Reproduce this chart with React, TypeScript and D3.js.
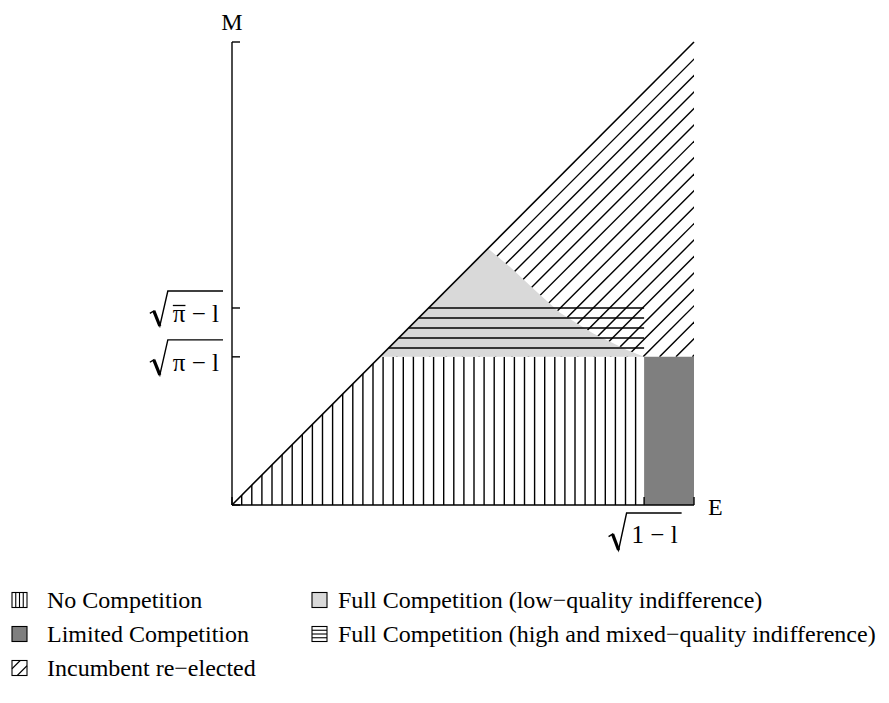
import React, { useEffect, useRef } from "react";
import * as d3 from "d3";

// ---- data ----
const E_DOMAIN: [number, number] = [0, 1];
const M_DOMAIN: [number, number] = [0, 1];
const SQRT_1_L = 0.892; // √(1 − l) on E axis
const SQRT_PI_L = 0.32; // √(π − l) on M axis
const SQRT_PIBAR_L = 0.4255; // √(π̄ − l) on M axis
// boundary of the light-grey region, from apex on the diagonal down to (√(1−l), √(π−l))
const GRAY_BOUNDARY: [number, number][] = [
  [0.554, 0.554],
  [0.602, 0.514],
  [0.66, 0.46],
  [0.71, 0.415],
  [0.781, 0.371],
  [0.855, 0.335],
  [0.892, 0.32],
];
const LEGEND_LABELS = [
  "No Competition",
  "Limited Competition",
  "Incumbent re\u2212elected",
  "Full Competition (low\u2212quality indifference)",
  "Full Competition (high and mixed\u2212quality indifference)",
];
const LEGEND_KINDS = ["vertical", "dark", "diagonal", "light", "horizontal"];
const LEGEND_COL = [0, 0, 0, 1, 1];
const LEGEND_ROW = [0, 1, 2, 0, 1];

const FONT = "'Liberation Serif', 'Times New Roman', serif";
const W = 889;
const H = 703;

export default function App() {
  const ref = useRef<SVGSVGElement | null>(null);

  useEffect(() => {
    const svg = d3.select(ref.current);
    svg.selectAll("*").remove();

    const x = d3.scaleLinear().domain(E_DOMAIN).range([232, 694]);
    const y = d3.scaleLinear().domain(M_DOMAIN).range([505, 42]);
    const a = SQRT_1_L, b = SQRT_PI_L, c = SQRT_PIBAR_L;
    const line = d3.line<[number, number]>().x((d) => x(d[0])).y((d) => y(d[1]));
    const defs = svg.append("defs");

    const clip = (id: string, pts: [number, number][]) => {
      defs.append("clipPath").attr("id", id).append("path").attr("d", line(pts)! + "Z");
      return `url(#${id})`;
    };

    // No competition – vertical hatch
    const noComp: [number, number][] = [[0, 0], [b, b], [a, b], [a, 0]];
    const gV = svg.append("g").attr("clip-path", clip("cNo", noComp));
    const vStep = 10.1;
    const vx = d3.range(x(0) + 9.7, x(a) - 1, vStep);
    gV.selectAll("line").data(vx).join("line")
      .attr("x1", (d) => d).attr("x2", (d) => d)
      .attr("y1", y(0)).attr("y2", y(b))
      .attr("stroke", "#000").attr("stroke-width", 1.4);

    // Limited competition – dark grey
    svg.append("path").attr("d", line([[a, 0], [1, 0], [1, b], [a, b]])! + "Z")
      .attr("fill", "#7f7f7f");

    // Incumbent re-elected – diagonal hatch parallel to the 45° line
    const inc: [number, number][] = [[b, b], [1, 1], [1, b]];
    const gD = svg.append("g").attr("clip-path", clip("cInc", inc));
    const dStep = 16.45;
    const x0 = x(b), yb = y(b);
    const offs = d3.range(dStep, x(1) - x0 + 2, dStep);
    gD.selectAll("line").data(offs).join("line")
      .attr("x1", (d) => x0 + d).attr("y1", yb)
      .attr("x2", (d) => x0 + d + 500).attr("y2", yb - 500)
      .attr("stroke", "#000").attr("stroke-width", 1.4);

    // Full competition (low-quality) – light grey
    const grayPoly: [number, number][] = [[b, b], ...GRAY_BOUNDARY];
    svg.append("path").attr("d", line(grayPoly)! + "Z").attr("fill", "#d9d9d9");

    // Full competition (high & mixed) – horizontal hatch
    const hStep = 10;
    const hy = d3.range(y(c), y(b) - 1, hStep);
    svg.append("g").selectAll("line").data(hy).join("line")
      .attr("x1", (d) => x(y.invert(d))).attr("x2", x(a))
      .attr("y1", (d) => d).attr("y2", (d) => d)
      .attr("stroke", "#000").attr("stroke-width", 1.4);

    // main diagonal M = E
    svg.append("path").attr("d", line([[0, 0], [1, 1]])!)
      .attr("stroke", "#000").attr("stroke-width", 1.6).attr("fill", "none");

    // axes
    const ax = svg.append("g").attr("stroke", "#000").attr("stroke-width", 1.4).attr("fill", "none");
    ax.append("line").attr("x1", x(0)).attr("x2", x(0)).attr("y1", y(0)).attr("y2", y(1));
    ax.append("line").attr("x1", x(0)).attr("x2", x(1)).attr("y1", y(0)).attr("y2", y(0));
    const tickLen = 8;
    [0, b, c, 1].forEach((v) => {
      ax.append("line").attr("x1", x(0)).attr("x2", x(0) + tickLen).attr("y1", y(v)).attr("y2", y(v));
    });
    [0, a, 1].forEach((v) => {
      ax.append("line").attr("x1", x(v)).attr("x2", x(v)).attr("y1", y(0)).attr("y2", y(0) - tickLen);
    });

    // axis titles
    svg.append("text").attr("x", x(0)).attr("y", 30).attr("text-anchor", "middle")
      .attr("font-family", FONT).attr("font-size", 24).text("M");
    svg.append("text").attr("x", 708).attr("y", 515)
      .attr("font-family", FONT).attr("font-size", 24).text("E");

    // radical labels
    const drawSqrt = (
      anchor: "end" | "middle", ax0: number, top: number, bottom: number,
      baseline: number, txt: string, bar: boolean
    ) => {
      const g = svg.append("g");
      const t = g.append("text").attr("y", baseline).attr("font-family", FONT)
        .attr("font-size", 25).text(txt);
      const node = t.node() as SVGTextElement;
      const w = node.getComputedTextLength();
      const R = 18, padL = 5, padR = 4;
      const total = R + padL + w + padR;
      const left = anchor === "end" ? ax0 - total : ax0 - total / 2;
      const vStart = left + R;
      const h = bottom - top;
      t.attr("x", vStart + padL);
      g.append("path")
        .attr("d", `M${left},${top + 0.64 * h}L${left + 4},${top + 0.57 * h}L${left + 10},${bottom}L${vStart},${top}L${vStart + padL + w + padR},${top}`)
        .attr("fill", "none").attr("stroke", "#000").attr("stroke-width", 1.4).attr("stroke-linejoin", "miter");
      g.append("path")
        .attr("d", `M${left + 4},${top + 0.57 * h}L${left + 10},${bottom}`)
        .attr("stroke", "#000").attr("stroke-width", 3.2);
      if (bar) {
        const pw = node.getSubStringLength(0, 1);
        g.append("line").attr("x1", vStart + padL).attr("x2", vStart + padL + pw)
          .attr("y1", baseline - 17).attr("y2", baseline - 17)
          .attr("stroke", "#000").attr("stroke-width", 1.3);
      }
    };
    drawSqrt("end", 223, y(c) - 17, y(c) + 18, y(c) + 14.5, "\u03c0 \u2212 l", true);
    drawSqrt("end", 223, y(b) - 17, y(b) + 18, y(b) + 14.5, "\u03c0 \u2212 l", false);
    drawSqrt("middle", x(a) + 1, 513, 550, 543, "1 \u2212 l", false);

    // legend
    const colX = [12, 312];
    const textX = [47, 338];
    const rowY = [600, 634, 668];
    const bs = 15;
    LEGEND_LABELS.forEach((lab, i) => {
      const bx = colX[LEGEND_COL[i]];
      const cy = rowY[LEGEND_ROW[i]];
      const by = cy - bs / 2;
      const kind = LEGEND_KINDS[i];
      const g = svg.append("g");
      const fill = kind === "dark" ? "#7f7f7f" : kind === "light" ? "#d9d9d9" : "#fff";
      g.append("rect").attr("x", bx).attr("y", by).attr("width", bs).attr("height", bs)
        .attr("fill", fill).attr("stroke", "#000").attr("stroke-width", 1.1);
      if (kind === "vertical") {
        [1, 2, 3].forEach((k) => g.append("line").attr("x1", bx + (k * bs) / 4).attr("x2", bx + (k * bs) / 4)
          .attr("y1", by).attr("y2", by + bs).attr("stroke", "#000").attr("stroke-width", 1.1));
      } else if (kind === "horizontal") {
        [1, 2, 3].forEach((k) => g.append("line").attr("y1", by + (k * bs) / 4).attr("y2", by + (k * bs) / 4)
          .attr("x1", bx).attr("x2", bx + bs).attr("stroke", "#000").attr("stroke-width", 1.1));
      } else if (kind === "diagonal") {
        g.append("line").attr("x1", bx).attr("y1", by + bs * 0.55).attr("x2", bx + bs * 0.55).attr("y2", by)
          .attr("stroke", "#000").attr("stroke-width", 1.1);
        g.append("line").attr("x1", bx + bs * 0.35).attr("y1", by + bs).attr("x2", bx + bs).attr("y2", by + bs * 0.35)
          .attr("stroke", "#000").attr("stroke-width", 1.1);
      }
      g.append("text").attr("x", textX[LEGEND_COL[i]]).attr("y", cy + 8)
        .attr("font-family", FONT).attr("font-size", 24).text(lab);
    });
  }, []);

  return <svg ref={ref} width={W} height={H} style={{ display: "block", position: "absolute", left: 0, top: 0 }} />;
}
